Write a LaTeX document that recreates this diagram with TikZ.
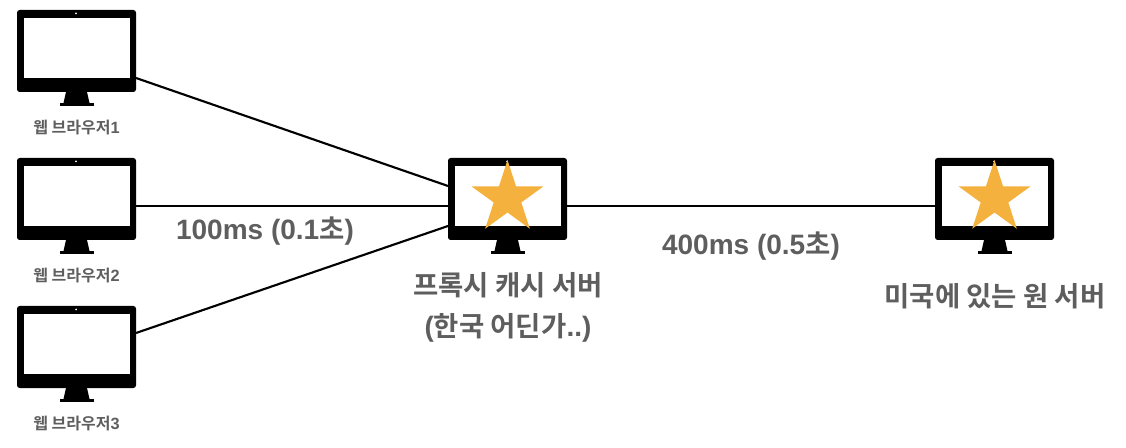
\documentclass[tikz,border=0pt]{standalone}
\usepackage{fontspec}
\setmainfont{Noto Sans CJK KR}[BoldFont={Noto Sans CJK KR Bold}]
\newfontfamily\latinfont{Liberation Sans}[BoldFont={Liberation Sans Bold},Scale=1.02]
\newcommand{\lat}[1]{{\latinfont\bfseries #1}}
\usepackage{xcolor}
\usetikzlibrary{positioning,shapes.geometric}
\definecolor{labelgray}{HTML}{5E5E5E}
\definecolor{stargold}{HTML}{F4B13D}
\tikzset{
	small label/.style={text=labelgray,font=\bfseries\fontsize{12pt}{14pt}\selectfont,inner sep=0pt},
	big label/.style={text=labelgray,font=\bfseries\fontsize{20.6pt}{30.5pt}\selectfont,inner sep=0pt,align=center},
	link/.style={line width=1.6pt,black},
	gold star/.style={star,star points=5,star point ratio=2.618,fill=stargold,minimum size=57pt,inner sep=0pt,outer sep=0pt},
	monitor/.pic={
		\node[fill=black,rounded corners=2pt,minimum width=89.25pt,minimum height=61.5pt,inner sep=0pt,outer sep=0pt] (-frame) at (0,0) {};
		\fill[white] (-53,33) rectangle (53,-27);
		\fill[white] (-0.5,37.5) circle (1);
		\fill[black] (-10.5,-41) -- (10.5,-41) -- (13,-52) -- (-13,-52) -- cycle;
		\fill[black] (-17,-52) rectangle (17,-55);
	}
}
\begin{document}
\begin{tikzpicture}[x=0.75pt,y=0.75pt]
	\useasboundingbox (0,0) rectangle (1126,-448);
	% browsers
	\pic (web1) at (76.5,-51) {monitor};
	\pic (web2) at (76.5,-199) {monitor};
	\pic (web3) at (76.5,-347) {monitor};
	% servers
	\pic (proxy) at (507.5,-199) {monitor};
	\pic (origin) at (994.5,-199) {monitor};
	\node[gold star] (proxystar) at (507.5,-198) {};
	\node[gold star] (originstar) at (994.5,-198) {};
	% labels
	\node[small label] (web1label) at (76.5,-127.5) {웹 브라우저\lat{1}};
	\node[small label] (web2label) at (76.5,-275.5) {웹 브라우저\lat{2}};
	\node[small label] (web3label) at (76.5,-423.5) {웹 브라우저\lat{3}};
	\node[big label] (proxylabel) at (508,-307.5) {프록시 캐시 서버\\\lat{(}한국 어딘가\lat{..)}};
	\node[big label] (originlabel) at (995,-296) {미국에 있는 원 서버};
	\node[big label] (nearlabel) at (265,-231) {\lat{100ms (0.1}초\lat{)}};
	\node[big label] (farlabel) at (751,-246.5) {\lat{400ms (0.5}초\lat{)}};
	% links
	\draw[link] ([yshift=-20.25pt]web1-frame.east) -- ([yshift=9.75pt]proxy-frame.west);
	\draw[link] ([yshift=-5.25pt]web2-frame.east) -- ([yshift=-5.25pt]proxy-frame.west);
	\draw[link] ([yshift=10.5pt]web3-frame.east) -- ([yshift=-20.25pt]proxy-frame.west);
	\draw[link] ([yshift=-5.25pt]proxy-frame.east) -- ([yshift=-5.25pt]origin-frame.west);
\end{tikzpicture}
\end{document}
